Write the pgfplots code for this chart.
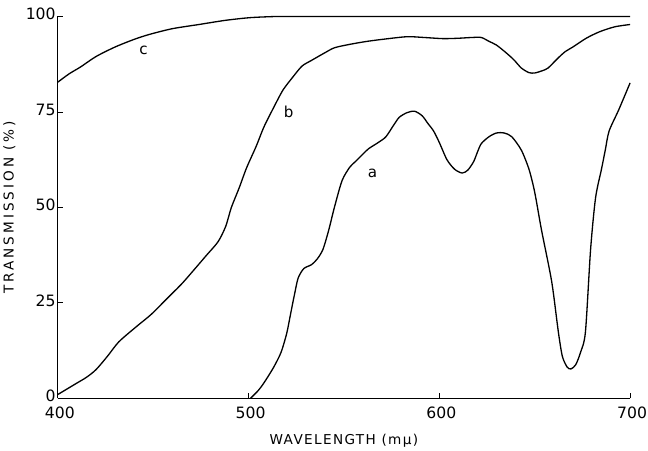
\documentclass[border=0pt]{standalone}
\usepackage{pgfplots}
\pgfplotsset{compat=1.18}
\usepackage{fontspec}
\setmainfont{DejaVu Sans}
\newfontfamily\spaced[LetterSpace=10]{DejaVu Sans}
\newfontfamily\spacedy[LetterSpace=22]{DejaVu Sans}
\begin{document}
\begin{tikzpicture}
\begin{axis}[
  scale only axis, width=568pt, height=379pt,
  xmin=400, xmax=700, ymin=0, ymax=100,
  axis x line=bottom, axis y line=left,
  axis line style={-},
  x axis line style={line width=0.8pt},
  y axis line style={line width=1.4pt},
  xtick={400,500,600,700}, ytick={0,25,50,75,100},
  tick align=inside, major tick length=5pt,
  tick style={black, line width=0.8pt},
  minor tick num=0,
  ticklabel style={font=\fontsize{15.5}{18}\selectfont},
  xticklabel style={yshift=-7pt, xshift=2pt, inner sep=1pt},
  yticklabel style={inner sep=2pt, yshift=2.5pt},
  /pgf/number format/assume math mode=true,
  xlabel={\spaced\fontsize{13.5}{16}\selectfont WAVELENGTH (mμ)},
  ylabel={\spacedy\fontsize{13.5}{16}\selectfont TRANSMISSION (\%)},
  xlabel style={at={(axis description cs:0.5,0)}, anchor=center, yshift=-42pt},
  ylabel style={at={(axis description cs:0,0.5)}, anchor=center, yshift=48pt},
  clip=false,
  cycle list={{black}},
  every axis plot/.append style={line width=1.3pt, black, smooth, tension=0.45, no marks},
]
% curve a
\addplot coordinates {
(501,0) (505,2) (508,4) (513,8) (517,12) (520,17) (522,22) (524,27) (526,31.5)
(529,34) (533,35) (536,36.5) (539,39) (542,44) (545,50) (549,57) (553,60.5)
(556,62) (560,64) (563,65.4) (568,67) (572,68.5) (576,71.5) (579,73.6) (583,74.8)
(587,75.2) (591,74) (594,72) (597,70) (600,67) (604,62.5) (608,60) (612,59)
(615,59.8) (618,62) (620,64.5) (622,66.7) (626,68.5) (630,69.5) (634,69.5)
(638,68.5) (643,65) (647,60) (650,54) (653.6,44) (658.9,30.6) (662.4,17.4)
(664.5,11) (667,8.2) (669,7.7) (671.5,8.8) (674,12) (676.6,17.4) (679.3,39)
(681.9,52.5) (685,60) (687,65) (689,70) (694,75.5) (700,82.6)
};
% curve b
\addplot coordinates {
(400,1) (405,2.5) (410,4) (415,5.5) (420,7.5) (426,11) (432,14.8) (441,18.7)
(449,22) (457,26) (465,30) (472,34) (478,37.5) (484,41) (488,45) (491,50)
(495,55) (499,60.4) (504,66) (508,71) (513,76) (518,80.7) (523,84) (528,87)
(533,88.5) (540,90.5) (545,91.8) (552,92.6) (561,93.4) (570,94) (583,94.7)
(592,94.5) (602,94.2) (610,94.3) (617,94.5) (622,94.5) (626,93.5) (630,92.5)
(635,90.5) (639,88.7) (643,86.5) (647,85.3) (650,85.2) (654,85.8) (657,86.5)
(662,89) (666,90.8) (670,92) (677,94.3) (684,96) (692,97.3) (700,97.9)
};
% curve c
\addplot coordinates {
(400,82.8) (406,85) (412,86.8) (420,89.5) (430,92) (440,94) (448,95.3)
(460,96.8) (474,97.9) (488,99) (501,99.7) (515,100) (530,100) (600,100) (700,100)
};
\node[font=\fontsize{15}{18}\selectfont] at (axis cs:445,91) {c};
\node[font=\fontsize{15}{18}\selectfont] at (axis cs:521,75) {b};
\node[font=\fontsize{15}{18}\selectfont] at (axis cs:565,59) {a};
\end{axis}
\path ([yshift=6pt]current bounding box.north);
\end{tikzpicture}
\end{document}
